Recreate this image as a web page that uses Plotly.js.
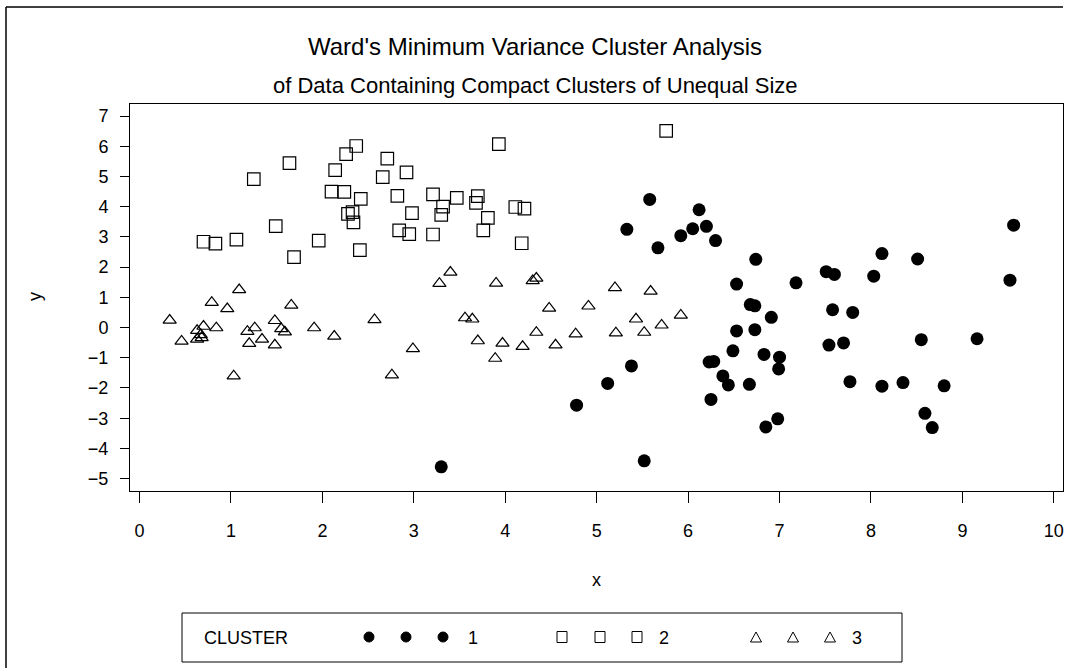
<!DOCTYPE html>
<html>
<head>
<meta charset="utf-8">
<script src="https://cdn.plot.ly/plotly-3.0.1.min.js"></script>
<style>html,body{margin:0;padding:0;background:#fff;}#chart{width:1067px;height:668px;}</style>
</head>
<body>
<div id="chart"></div>
<script>
// ---- Data ----
const cluster1X = [5.58,5.33,5.67,5.92,6.05,6.12,6.20,6.30,6.53,6.74,7.18,7.51,7.60,8.12,8.03,8.51,9.56,9.52,
  3.30,4.78,5.12,5.38,5.52,6.68,6.73,6.53,6.49,6.23,6.28,6.38,6.44,6.67,6.25,6.91,6.73,6.83,7.00,6.99,6.98,6.85,
  7.58,7.80,7.54,7.70,7.77,8.12,8.35,8.80,8.55,9.16,8.59,8.67];
const cluster1Y = [4.24,3.25,2.64,3.04,3.27,3.90,3.35,2.88,1.44,2.26,1.48,1.85,1.76,2.45,1.70,2.27,3.39,1.57,
  -4.61,-2.57,-1.85,-1.27,-4.41,0.76,0.72,-0.11,-0.77,-1.14,-1.12,-1.60,-1.90,-1.88,-2.38,0.34,-0.07,-0.89,-0.98,-1.37,-3.02,-3.29,
  0.59,0.50,-0.58,-0.51,-1.79,-1.94,-1.82,-1.93,-0.40,-0.37,-2.84,-3.31];

const cluster2X = [2.37,2.26,2.71,1.64,2.14,2.92,2.66,1.25,2.10,2.24,2.42,2.82,3.21,3.32,3.30,2.98,2.28,2.33,2.34,1.49,
  2.84,2.95,3.21,1.96,0.70,0.83,1.06,1.69,2.41,3.93,5.76,3.47,3.70,3.68,3.81,3.76,4.11,4.21,4.18];
const cluster2Y = [6.01,5.74,5.59,5.44,5.21,5.14,4.98,4.91,4.50,4.49,4.26,4.36,4.41,4.00,3.73,3.79,3.76,3.82,3.48,3.36,
  3.22,3.09,3.08,2.88,2.84,2.78,2.91,2.33,2.56,6.07,6.51,4.29,4.35,4.13,3.63,3.22,3.99,3.94,2.79];

const cluster3X = [1.09,3.28,3.40,3.90,4.30,4.34,5.20,5.59,0.79,0.96,0.33,0.63,0.70,0.67,0.68,0.63,0.46,0.84,1.18,1.26,
  1.20,1.34,1.48,1.55,1.59,1.48,1.66,1.91,2.13,2.57,1.03,2.99,2.76,3.56,3.64,3.70,3.97,3.89,4.19,4.34,
  4.48,4.55,4.77,4.91,5.21,5.43,5.52,5.71,5.92];
const cluster3Y = [1.25,1.46,1.83,1.47,1.55,1.63,1.32,1.20,0.83,0.62,0.24,-0.10,0.04,-0.24,-0.34,-0.39,-0.45,-0.01,-0.13,-0.01,
  -0.53,-0.39,0.23,-0.04,-0.15,-0.58,0.74,-0.01,-0.29,0.26,-1.60,-0.70,-1.57,0.32,0.28,-0.44,-0.52,-1.02,-0.63,-0.16,
  0.64,-0.58,-0.21,0.71,-0.18,0.28,-0.16,0.08,0.41];

const xTicks = [0,1,2,3,4,5,6,7,8,9,10];
const yTicks = [-5,-4,-3,-2,-1,0,1,2,3,4,5,6,7];
const clusterNames = ['1','2','3'];
const titleText = "Ward's Minimum Variance Cluster Analysis";
const subtitleText = "of Data Containing Compact Clusters of Unequal Size";

// ---- Layout geometry ----
const W = 1067, H = 668, L = 130, R = 4, T = 104, B = 177;
const pw = W - L - R, ph = H - T - B;
const px = x => (x - L) / pw;
const py = y => (H - B - y) / ph;
const FONT = '"Liberation Sans", Arial, Helvetica, sans-serif';

const traces = [
  {x: cluster1X, y: cluster1Y, type: 'scatter', mode: 'markers', name: clusterNames[0],
   marker: {symbol: 'circle', size: 13, color: '#000'}},
  {x: cluster2X, y: cluster2Y, type: 'scatter', mode: 'markers', name: clusterNames[1],
   marker: {symbol: 'square-open', size: 12.5, color: '#000', line: {width: 1.2, color: '#000'}}},
  {x: cluster3X, y: cluster3Y, type: 'scatter', mode: 'markers', name: clusterNames[2],
   marker: {symbol: 'triangle-up-open', size: 11.5, color: '#000', line: {width: 1.2, color: '#000'}}}
];

const shapes = [];
const line = (x0,y0,x1,y1) => shapes.push({type:'line', xref:'paper', yref:'paper',
  x0: px(x0), y0: py(y0), x1: px(x1), y1: py(y1), line:{color:'#000', width:1.5}});
// outer border
line(6, 7, 6, 668);
line(6, 7, 1063, 7);
// legend box
shapes.push({type:'rect', xref:'paper', yref:'paper', x0: px(182), x1: px(902), y0: py(613), y1: py(662),
  line:{color:'#000', width:1}, fillcolor:'rgba(0,0,0,0)'});
// legend keys
const legY = 637;
const keyX = [[369,406,443],[562,600,637],[756,793,830]];
keyX[0].forEach(cx => shapes.push({type:'circle', xref:'paper', yref:'paper',
  x0: px(cx-5), x1: px(cx+5), y0: py(legY+5), y1: py(legY-5), fillcolor:'#000', line:{color:'#000', width:1}}));
keyX[1].forEach(cx => shapes.push({type:'rect', xref:'paper', yref:'paper',
  x0: px(cx-5), x1: px(cx+5), y0: py(legY+5.5), y1: py(legY-5.5), line:{color:'#000', width:1}}));
keyX[2].forEach(cx => {
  const x0 = px(cx-5.5), x1 = px(cx+5.5), xm = px(cx), yb = py(legY+5), yt = py(legY-5);
  shapes.push({type:'path', xref:'paper', yref:'paper', path:`M ${x0} ${yb} L ${x1} ${yb} L ${xm} ${yt} Z`,
    line:{color:'#000', width:1}});
});

const ann = (text, x, y, size, opts={}) => Object.assign({text, xref:'paper', yref:'paper', x: px(x), y: py(y),
  showarrow:false, font:{family: FONT, size, color:'#000'}, xanchor:'center', yanchor:'middle'}, opts);

const annotations = [
  ann(titleText, 535, 46, 24),
  ann(subtitleText, 535, 85, 22),
  ann('x', 596, 580, 18),
  ann('y', 35, 297, 18, {textangle: -90}),
  ann('CLUSTER', 202, 638, 18, {xanchor:'left'}),
  ann(clusterNames[0], 473, 638, 18),
  ann(clusterNames[1], 664, 638, 18),
  ann(clusterNames[2], 857, 638, 18)
];

const layout = {
  width: W, height: H,
  margin: {l: L, r: R, t: T, b: B, pad: 0},
  paper_bgcolor: '#fff', plot_bgcolor: '#fff',
  showlegend: false,
  font: {family: FONT, color: '#000'},
  xaxis: {range: [-0.104, 10.10], tickmode: 'array', tickvals: xTicks, ticktext: xTicks.map(String),
    ticks: 'outside', ticklen: 11, tickwidth: 1, tickcolor: '#000', ticklabelstandoff: 12,
    showline: true, mirror: true, linecolor: '#000', linewidth: 1,
    showgrid: false, zeroline: false, tickfont: {size: 18, family: FONT, color:'#000'}},
  yaxis: {range: [-5.41, 7.40], tickmode: 'array', tickvals: yTicks,
    ticks: 'outside', ticklen: 9, tickwidth: 1, tickcolor: '#000', ticklabelstandoff: 8,
    showline: true, mirror: true, linecolor: '#000', linewidth: 1,
    showgrid: false, zeroline: false, tickfont: {size: 18, family: FONT, color:'#000'}},
  shapes, annotations
};

Plotly.newPlot('chart', traces, layout, {staticPlot: true, displayModeBar: false});
</script>
</body>
</html>
